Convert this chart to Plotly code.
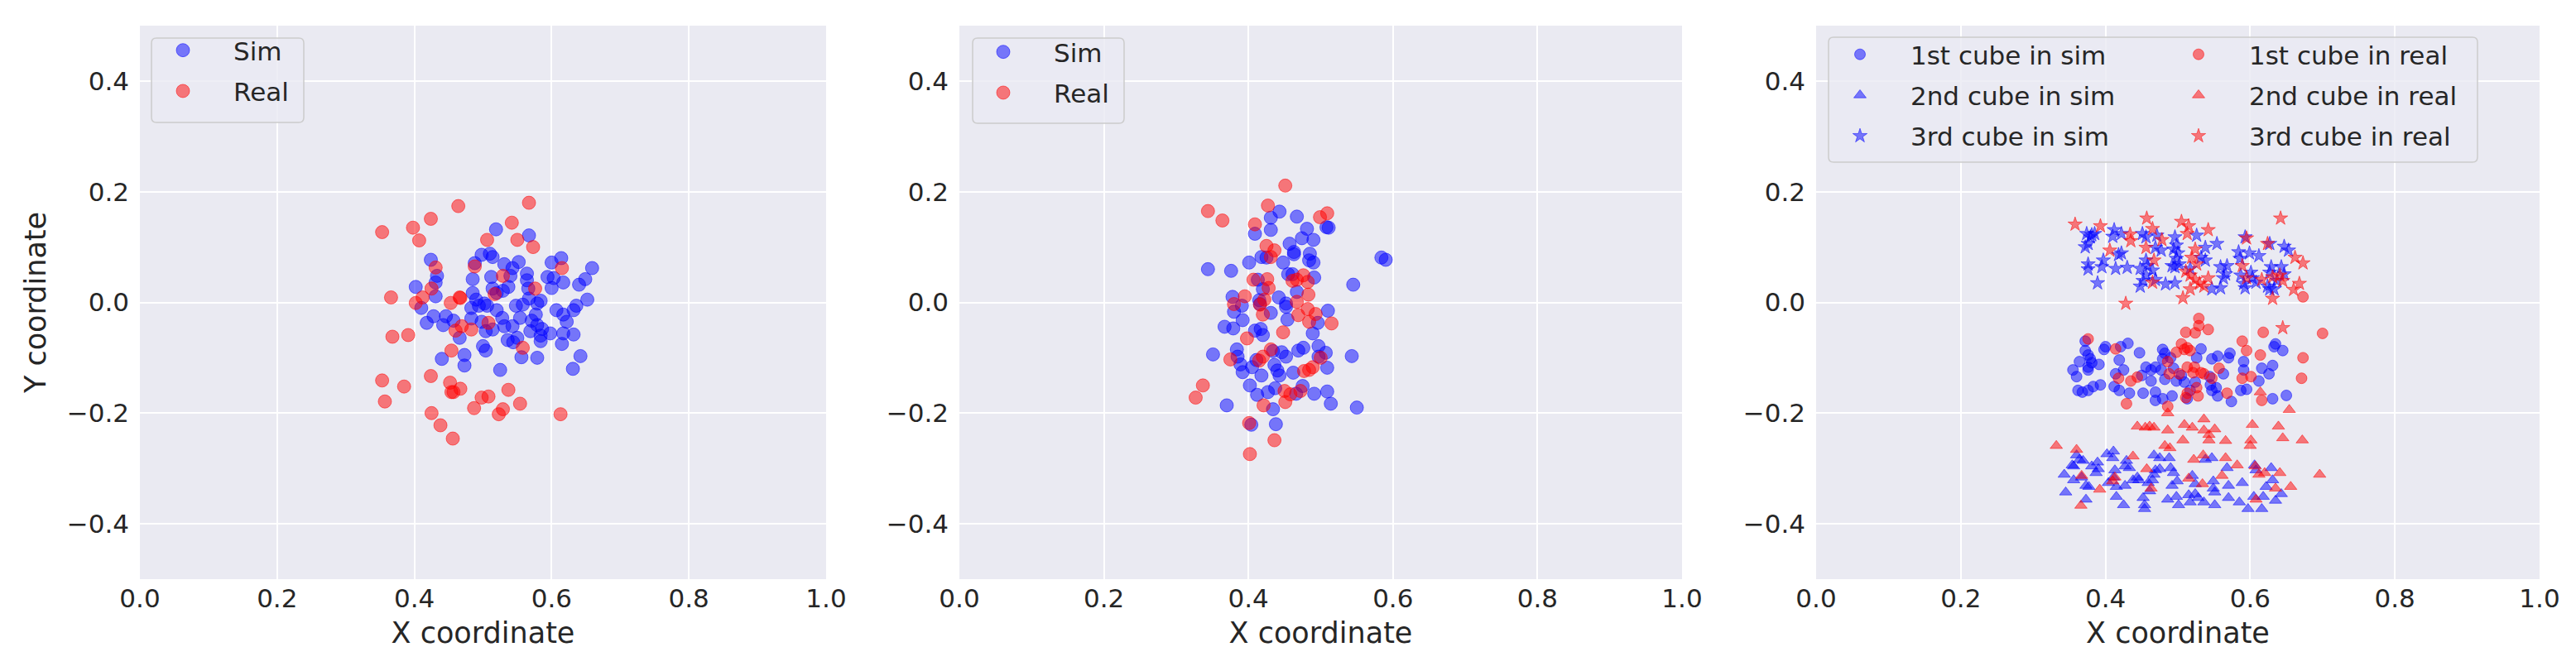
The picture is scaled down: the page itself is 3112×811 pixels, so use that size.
import plotly.graph_objects as go

W, H = 3112, 811

# ---------------- data ----------------
# Panel 1
p1_sim_x = [0.519, 0.567, 0.424, 0.433, 0.431, 0.402, 0.431, 0.410, 0.418, 0.428, 0.442, 0.446, 0.457, 0.440,
            0.466, 0.473, 0.473, 0.485, 0.488, 0.498, 0.510, 0.514, 0.512, 0.485, 0.490, 0.483, 0.494, 0.502,
            0.506, 0.483, 0.498, 0.504, 0.514, 0.500, 0.504, 0.525, 0.514, 0.520, 0.529, 0.520, 0.528, 0.531,
            0.536, 0.544, 0.543, 0.550, 0.537, 0.540, 0.531, 0.543, 0.552, 0.548, 0.558, 0.554, 0.556, 0.564,
            0.564, 0.566, 0.567, 0.571, 0.569, 0.577, 0.579, 0.579, 0.584, 0.579, 0.584, 0.584, 0.586, 0.598,
            0.600, 0.594, 0.603, 0.600, 0.614, 0.607, 0.617, 0.617, 0.617, 0.615, 0.622, 0.632, 0.640, 0.649,
            0.632, 0.636, 0.652, 0.659, 0.642, 0.631]
p1_sim_y = [0.132, 0.121, 0.077, 0.048, 0.036, 0.028, 0.011, -0.010, -0.037, -0.025, -0.041, -0.025, -0.033, -0.102,
            -0.064, -0.095, -0.114, 0.042, 0.071, 0.086, 0.088, 0.082, 0.046, 0.017, 0.005, -0.010, -0.006, -0.002,
            -0.006, -0.029, -0.035, -0.052, -0.049, -0.079, -0.087, -0.122, 0.025, 0.017, 0.021, -0.014, -0.028, -0.043,
            -0.068, -0.072, -0.043, -0.064, 0.028, 0.048, 0.069, 0.062, 0.073, -0.006, -0.004, -0.028, -0.099, 0.052,
            0.040, 0.025, 0.007, -0.033, -0.052, -0.022, -0.041, -0.002, 0.003, -0.100, -0.060, -0.070, -0.048, -0.056,
            0.072, 0.046, 0.044, 0.026, 0.080, -0.014, -0.022, 0.036, -0.056, -0.075, -0.035, -0.058, 0.032, 0.042,
            -0.014, -0.006, 0.005, 0.062, -0.097, -0.120]
p1_real_x = [0.353, 0.398, 0.407, 0.424, 0.464, 0.567, 0.542, 0.550, 0.573, 0.506, 0.488, 0.431, 0.615, 0.529,
             0.576, 0.425, 0.412, 0.402, 0.366, 0.453, 0.467, 0.466, 0.517, 0.508, 0.483, 0.460, 0.469, 0.368,
             0.391, 0.454, 0.558, 0.353, 0.385, 0.424, 0.357, 0.452, 0.467, 0.454, 0.457, 0.537, 0.498, 0.508,
             0.487, 0.425, 0.438, 0.456, 0.529, 0.523, 0.554, 0.613]
p1_real_y = [0.127, 0.135, 0.112, 0.151, 0.174, 0.180, 0.144, 0.113, 0.100, 0.113, 0.065, 0.063, 0.062, 0.048,
             0.025, 0.025, 0.009, -0.001, 0.009, -0.001, 0.008, 0.009, 0.015, -0.037, -0.049, -0.051, -0.043, -0.062,
             -0.059, -0.087, -0.082, -0.141, -0.152, -0.133, -0.179, -0.145, -0.156, -0.162, -0.162, -0.158, -0.172, -0.170,
             -0.191, -0.200, -0.222, -0.246, -0.193, -0.202, -0.183, -0.202]

# Panel 2
p2_sim_x = [0.443, 0.431, 0.467, 0.431, 0.409, 0.481, 0.511, 0.508, 0.474, 0.490, 0.457, 0.463, 0.463, 0.485,
            0.484, 0.490, 0.418, 0.425, 0.448, 0.401, 0.584, 0.590, 0.344, 0.376, 0.455, 0.461, 0.491, 0.413,
            0.545, 0.420, 0.467, 0.442, 0.378, 0.391, 0.415, 0.416, 0.452, 0.452, 0.380, 0.431, 0.454, 0.510,
            0.496, 0.392, 0.367, 0.379, 0.409, 0.417, 0.420, 0.489, 0.384, 0.351, 0.385, 0.389, 0.392, 0.405,
            0.411, 0.418, 0.434, 0.446, 0.452, 0.436, 0.440, 0.443, 0.462, 0.469, 0.476, 0.497, 0.507, 0.497,
            0.509, 0.543, 0.402, 0.412, 0.427, 0.437, 0.466, 0.475, 0.491, 0.509, 0.514, 0.550, 0.370, 0.434,
            0.404, 0.438]
p2_sim_y = [0.164, 0.153, 0.155, 0.131, 0.124, 0.133, 0.135, 0.136, 0.116, 0.113, 0.106, 0.091, 0.087, 0.088,
            0.076, 0.072, 0.082, 0.081, 0.072, 0.072, 0.081, 0.077, 0.060, 0.057, 0.051, 0.051, 0.045, 0.041,
            0.032, 0.024, 0.019, 0.009, 0.010, -0.006, 0.004, -0.003, -0.002, -0.008, -0.017, -0.019, -0.031, -0.015,
            -0.037, -0.032, -0.044, -0.047, -0.051, -0.048, -0.059, -0.056, -0.085, -0.094, -0.098, -0.112, -0.126, -0.117,
            -0.104, -0.132, -0.088, -0.090, -0.098, -0.113, -0.123, -0.132, -0.127, -0.087, -0.082, -0.079, -0.091, -0.098,
            -0.118, -0.097, -0.150, -0.167, -0.162, -0.155, -0.165, -0.151, -0.165, -0.161, -0.183, -0.190, -0.186, -0.193,
            -0.221, -0.220]
p2_real_x = [0.451, 0.427, 0.344, 0.364, 0.409, 0.509, 0.499, 0.425, 0.436, 0.431, 0.407, 0.426, 0.428, 0.461,
             0.467, 0.476, 0.482, 0.483, 0.395, 0.380, 0.422, 0.416, 0.420, 0.467, 0.469, 0.482, 0.493, 0.484,
             0.515, 0.448, 0.398, 0.431, 0.375, 0.415, 0.420, 0.500, 0.489, 0.477, 0.484, 0.337, 0.327, 0.450,
             0.458, 0.472, 0.451, 0.421, 0.401, 0.436, 0.402]
p2_real_y = [0.211, 0.175, 0.165, 0.148, 0.141, 0.161, 0.154, 0.102, 0.094, 0.082, 0.041, 0.042, 0.026, 0.039,
             0.041, 0.049, 0.037, 0.014, 0.011, -0.003, 0.005, -0.004, -0.022, 0.001, -0.023, -0.012, -0.021, -0.035,
             -0.038, -0.054, -0.065, -0.085, -0.103, -0.105, -0.098, -0.100, -0.117, -0.124, -0.122, -0.150, -0.172, -0.160,
             -0.166, -0.160, -0.180, -0.186, -0.218, -0.249, -0.274]

# Panel 3 - 1st cube (circles)
c1_sim_x = [0.372, 0.372, 0.376, 0.379, 0.364, 0.355, 0.360, 0.376, 0.381, 0.391, 0.376, 0.362, 0.368, 0.376,
            0.383, 0.393, 0.398, 0.400, 0.419, 0.431, 0.421, 0.425, 0.414, 0.412, 0.419, 0.433, 0.447, 0.456,
            0.463, 0.469, 0.450, 0.463, 0.452, 0.469, 0.479, 0.482, 0.479, 0.490, 0.477, 0.482, 0.479, 0.492,
            0.469, 0.498, 0.505, 0.509, 0.494, 0.524, 0.532, 0.526, 0.517, 0.513, 0.547, 0.555, 0.545, 0.553,
            0.544, 0.563, 0.570, 0.572, 0.555, 0.574, 0.547, 0.591, 0.591, 0.587, 0.595, 0.612, 0.616, 0.626,
            0.631, 0.633, 0.635, 0.645, 0.631, 0.650]
c1_sim_y = [-0.070, -0.087, -0.095, -0.102, -0.107, -0.122, -0.134, -0.117, -0.109, -0.112, -0.122, -0.159, -0.162, -0.159,
            -0.152, -0.149, -0.085, -0.080, -0.104, -0.074, -0.080, -0.122, -0.129, -0.152, -0.159, -0.164, -0.091, -0.117,
            -0.122, -0.117, -0.132, -0.142, -0.164, -0.162, -0.085, -0.092, -0.102, -0.100, -0.122, -0.139, -0.174, -0.169,
            -0.177, -0.142, -0.132, -0.144, -0.119, -0.144, -0.084, -0.100, -0.159, -0.174, -0.102, -0.097, -0.149, -0.154,
            -0.134, -0.129, -0.100, -0.092, -0.169, -0.179, -0.159, -0.107, -0.122, -0.159, -0.157, -0.142, -0.119, -0.129,
            -0.114, -0.080, -0.075, -0.087, -0.174, -0.168]
c1_real_x = [0.376, 0.414, 0.418, 0.435, 0.444, 0.429, 0.486, 0.488, 0.498, 0.502, 0.509, 0.505, 0.513, 0.517,
             0.511, 0.524, 0.529, 0.529, 0.542, 0.513, 0.523, 0.521, 0.532, 0.536, 0.547, 0.557, 0.526, 0.528,
             0.513, 0.511, 0.486, 0.568, 0.589, 0.595, 0.589, 0.601, 0.614, 0.618, 0.616, 0.673, 0.671, 0.700,
             0.673]
c1_real_y = [-0.066, -0.084, -0.137, -0.142, -0.135, -0.183, -0.107, -0.129, -0.090, -0.129, -0.085, -0.075, -0.082, -0.087,
             -0.054, -0.055, -0.029, -0.042, -0.049, -0.117, -0.117, -0.127, -0.127, -0.129, -0.137, -0.119, -0.154, -0.169,
             -0.164, -0.172, -0.188, -0.164, -0.070, -0.087, -0.137, -0.134, -0.095, -0.054, -0.177, -0.100, -0.137, -0.056,
             0.010]

# Panel 3 - 2nd cube (triangles)
c2_sim_x = [0.360, 0.364, 0.369, 0.356, 0.354, 0.343, 0.356, 0.367, 0.345, 0.373, 0.377, 0.373, 0.381, 0.389,
            0.390, 0.387, 0.402, 0.411, 0.410, 0.413, 0.411, 0.404, 0.415, 0.427, 0.415, 0.425, 0.429, 0.427,
            0.433, 0.438, 0.446, 0.444, 0.452, 0.454, 0.454, 0.465, 0.467, 0.459, 0.461, 0.467, 0.475, 0.475,
            0.469, 0.488, 0.490, 0.494, 0.492, 0.499, 0.486, 0.498, 0.501, 0.515, 0.517, 0.520, 0.524, 0.524,
            0.528, 0.536, 0.538, 0.547, 0.549, 0.549, 0.551, 0.551, 0.568, 0.570, 0.570, 0.589, 0.585, 0.597,
            0.606, 0.608, 0.605, 0.618, 0.616, 0.622, 0.629, 0.631, 0.635, 0.643]
c2_sim_y = [-0.276, -0.284, -0.286, -0.296, -0.294, -0.311, -0.321, -0.316, -0.343, -0.331, -0.333, -0.356, -0.296, -0.289,
            -0.301, -0.308, -0.274, -0.269, -0.281, -0.303, -0.316, -0.326, -0.333, -0.331, -0.351, -0.366, -0.286, -0.296,
            -0.299, -0.321, -0.321, -0.316, -0.353, -0.366, -0.373, -0.321, -0.311, -0.326, -0.341, -0.276, -0.281, -0.301,
            -0.303, -0.281, -0.299, -0.308, -0.331, -0.323, -0.356, -0.351, -0.366, -0.348, -0.361, -0.313, -0.328, -0.346,
            -0.353, -0.361, -0.284, -0.281, -0.323, -0.336, -0.343, -0.366, -0.299, -0.331, -0.353, -0.326, -0.361, -0.373,
            -0.294, -0.303, -0.351, -0.351, -0.373, -0.333, -0.299, -0.321, -0.358, -0.346]
c2_real_x = [0.332, 0.360, 0.367, 0.366, 0.392, 0.410, 0.413, 0.438, 0.457, 0.463, 0.444, 0.455, 0.461, 0.467,
             0.486, 0.482, 0.489, 0.509, 0.520, 0.536, 0.536, 0.543, 0.543, 0.551, 0.507, 0.522, 0.535, 0.515,
             0.534, 0.566, 0.566, 0.561, 0.582, 0.603, 0.601, 0.600, 0.607, 0.612, 0.620, 0.608, 0.639, 0.645,
             0.672, 0.654, 0.641, 0.635, 0.656, 0.696, 0.486, 0.614]
c2_real_y = [-0.259, -0.266, -0.313, -0.367, -0.338, -0.323, -0.316, -0.278, -0.301, -0.336, -0.224, -0.226, -0.224, -0.226,
             -0.231, -0.259, -0.263, -0.221, -0.226, -0.211, -0.231, -0.239, -0.249, -0.229, -0.249, -0.284, -0.276, -0.318,
             -0.328, -0.250, -0.281, -0.313, -0.294, -0.221, -0.249, -0.259, -0.296, -0.311, -0.308, -0.356, -0.224, -0.245,
             -0.249, -0.194, -0.308, -0.336, -0.333, -0.311, -0.200, -0.162]

# Panel 3 - 3rd cube (stars)
c3_sim_x = [0.374, 0.381, 0.385, 0.379, 0.376, 0.372, 0.412, 0.410, 0.422, 0.397, 0.395, 0.376, 0.376, 0.389,
            0.414, 0.430, 0.418, 0.422, 0.451, 0.456, 0.471, 0.469, 0.477, 0.456, 0.448, 0.458, 0.465, 0.456,
            0.452, 0.448, 0.469, 0.483, 0.496, 0.496, 0.498, 0.494, 0.500, 0.498, 0.492, 0.496, 0.502, 0.526,
            0.538, 0.554, 0.532, 0.538, 0.517, 0.547, 0.559, 0.559, 0.568, 0.566, 0.563, 0.584, 0.593, 0.599,
            0.612, 0.586, 0.587, 0.601, 0.603, 0.591, 0.593, 0.608, 0.627, 0.647, 0.653, 0.629, 0.627, 0.643,
            0.647, 0.624, 0.627, 0.633, 0.637]
c3_sim_y = [0.124, 0.122, 0.124, 0.118, 0.106, 0.100, 0.131, 0.119, 0.124, 0.076, 0.064, 0.069, 0.060, 0.035,
            0.061, 0.063, 0.086, 0.089, 0.124, 0.118, 0.121, 0.099, 0.094, 0.076, 0.061, 0.066, 0.058, 0.049,
            0.039, 0.029, 0.041, 0.033, 0.035, 0.118, 0.103, 0.096, 0.089, 0.079, 0.066, 0.064, 0.069, 0.121,
            0.099, 0.106, 0.081, 0.076, 0.061, 0.024, 0.026, 0.064, 0.066, 0.051, 0.044, 0.091, 0.118, 0.089,
            0.084, 0.079, 0.049, 0.054, 0.044, 0.034, 0.026, 0.036, 0.106, 0.101, 0.094, 0.064, 0.054, 0.064,
            0.051, 0.029, 0.024, 0.024, 0.039]
c3_real_x = [0.358, 0.393, 0.457, 0.465, 0.434, 0.435, 0.406, 0.456, 0.467, 0.465, 0.478, 0.505, 0.515, 0.513,
             0.542, 0.524, 0.519, 0.526, 0.511, 0.517, 0.524, 0.530, 0.536, 0.542, 0.517, 0.507, 0.428, 0.595,
             0.589, 0.595, 0.616, 0.624, 0.642, 0.631, 0.641, 0.645, 0.662, 0.673, 0.668, 0.660, 0.631, 0.645]
c3_real_y = [0.141, 0.138, 0.152, 0.133, 0.123, 0.111, 0.094, 0.099, 0.076, 0.036, 0.113, 0.146, 0.138, 0.124,
             0.131, 0.096, 0.081, 0.069, 0.056, 0.049, 0.041, 0.034, 0.029, 0.044, 0.024, 0.008, -0.002, 0.116,
             0.066, 0.044, 0.041, 0.106, 0.152, 0.046, 0.049, 0.039, 0.081, 0.071, 0.034, 0.023, 0.007, -0.046]

xtick_vals = [0.0, 0.2, 0.4, 0.6, 0.8, 1.0]
xtick_text = ["0.0", "0.2", "0.4", "0.6", "0.8", "1.0"]
ytick_vals = [-0.4, -0.2, 0.0, 0.2, 0.4]
ytick_text = ["\u22120.4", "\u22120.2", "0.0", "0.2", "0.4"]

# ---------------- style ----------------
BLUE = "rgba(0,0,255,0.5)"
RED = "rgba(255,0,0,0.5)"
FONT = "DejaVu Sans"
TXT = "#262626"
BG = "#EAEAF2"


def px_x(p):
    return p / W


def px_y(p):
    return 1 - p / H


panels_px = [(161, 990), (1151, 2024), (2186, 3060)]
top_px, bot_px = 23, 692

fig = go.Figure()


def mk(color, symbol, size):
    return dict(color=color, symbol=symbol, size=size, line=dict(color=color, width=1))


def add(x, y, name, ax, legend, color, symbol="circle", size=16, group=None):
    fig.add_trace(go.Scatter(
        x=x, y=y, mode="markers", name=name,
        xaxis="x" + ("" if ax == 1 else str(ax)),
        yaxis="y" + ("" if ax == 1 else str(ax)),
        legend=legend, legendgroup=group or name,
        marker=mk(color, symbol, size), hoverinfo="skip"))


add(p1_sim_x, p1_sim_y, "Sim", 1, "legend", BLUE, group="a1")
add(p1_real_x, p1_real_y, "Real", 1, "legend", RED, group="a2")
add(p2_sim_x, p2_sim_y, "Sim", 2, "legend2", BLUE, group="b1")
add(p2_real_x, p2_real_y, "Real", 2, "legend2", RED, group="b2")
add(c1_sim_x, c1_sim_y, "1st cube in sim", 3, "legend3", BLUE, "circle", 13)
add(c2_sim_x, c2_sim_y, "2nd cube in sim", 3, "legend3", BLUE, "triangle-up", 13)
add(c3_sim_x, c3_sim_y, "3rd cube in sim", 3, "legend3", BLUE, "star", 13)
add(c1_real_x, c1_real_y, "1st cube in real", 3, "legend4", RED, "circle", 13)
add(c2_real_x, c2_real_y, "2nd cube in real", 3, "legend4", RED, "triangle-up", 13)
add(c3_real_x, c3_real_y, "3rd cube in real", 3, "legend4", RED, "star", 13)

layout = dict(
    width=W, height=H, margin=dict(l=0, r=0, t=0, b=0),
    paper_bgcolor="white", plot_bgcolor=BG,
    font=dict(family=FONT, color=TXT, size=31),
)

for i, (l, r) in enumerate(panels_px, start=1):
    sfx = "" if i == 1 else str(i)
    layout["xaxis" + sfx] = dict(
        domain=[px_x(l), px_x(r)], anchor="y" + sfx, range=[0, 1],
        tickmode="array", tickvals=xtick_vals, ticktext=xtick_text,
        showgrid=True, gridcolor="white", gridwidth=2, zeroline=False, showline=False,
        ticks="", ticklabelstandoff=2, tickfont=dict(size=31, color=TXT),
        title=dict(text="X coordinate", font=dict(size=35, color=TXT), standoff=12),
        automargin=False, fixedrange=True)
    layout["yaxis" + sfx] = dict(
        domain=[px_y(bot_px), px_y(top_px)], anchor="x" + sfx, range=[-0.5, 0.5],
        tickmode="array", tickvals=ytick_vals, ticktext=ytick_text,
        showgrid=True, gridcolor="white", gridwidth=2, zeroline=False, showline=False,
        ticks="", ticklabelstandoff=12, tickfont=dict(size=31, color=TXT),
        title=dict(text="Y coordinate" if i == 1 else "", font=dict(size=35, color=TXT), standoff=14),
        automargin=False, fixedrange=True)


def leg(left_px, top_px_):
    return dict(x=px_x(left_px), y=px_y(top_px_), xanchor="left", yanchor="top",
                xref="paper", yref="paper", bgcolor="rgba(0,0,0,0)", borderwidth=0,
                font=dict(size=31, color=TXT, family=FONT), itemwidth=112,
                tracegroupgap=6, itemclick=False, itemdoubleclick=False)


layout["legend"] = leg(152, 26)
layout["legend2"] = leg(1143, 28)
layout["legend3"] = leg(2178, 31)
layout["legend4"] = leg(2587, 31)


def rounded_box(l, t, r, b, rad=6):
    def P(x, y):
        return f"{px_x(x):.6f},{px_y(y):.6f}"
    return (f"M {P(l + rad, t)} L {P(r - rad, t)} Q {P(r, t)} {P(r, t + rad)} "
            f"L {P(r, b - rad)} Q {P(r, b)} {P(r - rad, b)} "
            f"L {P(l + rad, b)} Q {P(l, b)} {P(l, b - rad)} "
            f"L {P(l, t + rad)} Q {P(l, t)} {P(l + rad, t)} Z")


shapes = []
for (l, t, r, b) in [(175, 38, 359, 140), (1167, 38, 1350, 141), (2201, 37, 2985, 188)]:
    shapes.append(dict(type="path", xref="paper", yref="paper", path=rounded_box(l, t, r, b),
                       fillcolor="rgba(234,234,242,0.8)", line=dict(color="#CCCCCC", width=1.5),
                       layer="above"))
layout["shapes"] = shapes

fig.update_layout(**layout)
fig.write_html("out.html")
